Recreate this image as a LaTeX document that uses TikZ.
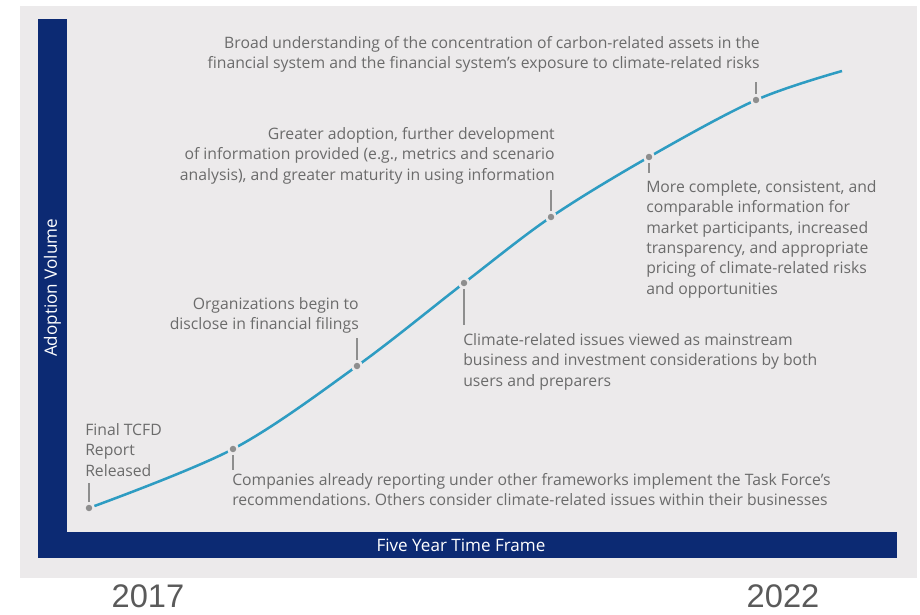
\documentclass[tikz,border=0pt]{standalone}
\usepackage{fontspec}
\setmainfont{Open Sans}
\newfontfamily\yearfont{Liberation Sans}
\usetikzlibrary{positioning}
\definecolor{panelgray}{HTML}{ECEAEB}
\definecolor{framenavy}{HTML}{0C2A73}
\definecolor{curveteal}{HTML}{2E9CC2}
\definecolor{notegray}{HTML}{6B6B6B}
\definecolor{dotgray}{HTML}{8E8E8E}
\definecolor{yeargray}{HTML}{5A5A5A}
\frenchspacing

\begin{document}
\begin{tikzpicture}[x=0.75pt,y=-0.75pt,
    note/.style={inner sep=0pt, text=notegray, font=\fontsize{11.8}{15.3}\selectfont},
    axislabel/.style={inner sep=0pt, text=white, font=\fontsize{12.8}{15}\selectfont},
    year/.style={inner sep=0pt, text=yeargray, font=\yearfont\fontsize{24.5}{28}\selectfont},
    dot/.style={circle, fill=dotgray, draw=panelgray, line width=1.9pt, minimum size=7.1pt, inner sep=0pt},
    tick/.style={draw=dotgray, line width=1.3pt}]
        \useasboundingbox (0,0) rectangle (920,614);
        \fill[panelgray] (20,6) rectangle (917,578);
        \fill[framenavy] (38,19) rectangle (67,558);
        \fill[framenavy] (38,532) rectangle (897,558);
        \node[axislabel, rotate=90] at (52.5,288) (yaxis) {Adoption Volume};
        \node[axislabel] at (461,545) (xaxis) {Five Year Time Frame};
        \draw[curveteal, line width=1.9pt] plot[smooth, tension=0.55] coordinates {(89,508) (233,449) (357,366) (464,283) (551,217) (649,157) (756,100) (842,71)};
        \node[dot] at (89,508) (d0) {};
        \node[dot] at (233,449) (d1) {};
        \node[dot] at (357,366) (d2) {};
        \node[dot] at (464,283) (d3) {};
        \node[dot] at (551,217) (d4) {};
        \node[dot] at (649,157) (d5) {};
        \node[dot] at (756,100) (d6) {};
        \coordinate (t0) at (89,483);
        \coordinate (t1) at (233,470);
        \coordinate (t2) at (357,338);
        \coordinate (t3) at (464,325);
        \coordinate (t4) at (551,190);
        \coordinate (t5) at (649,173);
        \coordinate (t6) at (756,82);
        \draw[tick] (d0) -- (t0);
        \draw[tick] (d1) -- (t1);
        \draw[tick] (d2) -- (t2);
        \draw[tick] (d3) -- (t3);
        \draw[tick] (d4) -- (t4);
        \draw[tick] (d5) -- (t5);
        \draw[tick] (d6) -- (t6);
        \node[note, anchor=north west, align=left] at (85,423) (released) {Final TCFD\\Report\\Released};
        \node[note, anchor=north west, align=left] at (232,473) (companies) {Companies already reporting under other frameworks implement the Task Force’s\\recommendations. Others consider climate-related issues within their businesses};
        \node[note, anchor=north east, align=right] at (359,297) (disclose) {Organizations begin to\\disclose in financial filings};
        \node[note, anchor=north west, align=left] at (463,333) (mainstream) {Climate-related issues viewed as mainstream\\business and investment considerations by both\\users and preparers};
        \node[note, anchor=north east, align=right] at (555,127) (adoption) {Greater adoption, further development\\of information provided (e.g., metrics and scenario\\analysis), and greater maturity in using information};
        \node[note, anchor=north west, align=left] at (646,180) (comparable) {More complete, consistent, and\\comparable information for\\market participants, increased\\transparency, and appropriate\\pricing of climate-related risks\\and opportunities};
        \node[note, anchor=north east, align=right] at (760,36) (understanding) {Broad understanding of the concentration of carbon-related assets in the\\financial system and the financial system’s exposure to climate-related risks};
        \node[year] at (148,596) (start) {2017};
        \node[year] at (783,596) (finish) {2022};
\end{tikzpicture}
\end{document}
